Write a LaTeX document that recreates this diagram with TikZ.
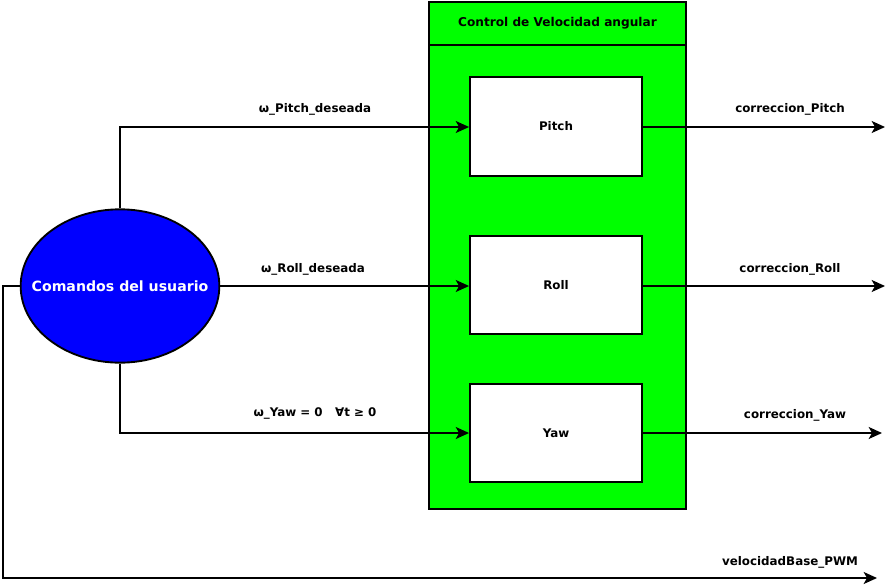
\documentclass[tikz,border=0pt]{standalone}
\usepackage{fontspec}
\setmainfont{DejaVu Sans}
\usetikzlibrary{arrows.meta,shapes.geometric}
\definecolor{vgreen}{HTML}{00FF00}
\definecolor{vblue}{HTML}{0000FF}
\tikzset{
  px/.style={x=0.75pt,y=-0.75pt},
  wire/.style={line width=1.4pt,-{Stealth[length=10pt,width=9pt,inset=2.5pt]}},
  blockbox/.style={draw,line width=1.4pt,fill=white,minimum width=129pt,minimum height=74pt,inner sep=0pt,font=\bfseries\fontsize{8.9}{10}\selectfont},
  lbl/.style={font=\bfseries\fontsize{8.9}{10}\selectfont,inner sep=0pt}
}
\begin{document}
\begin{tikzpicture}[px]
\useasboundingbox (0,0) rectangle (887,585);
% container
\node[draw,line width=1.4pt,fill=vgreen,minimum width=192.75pt,minimum height=380.25pt,inner sep=0pt,anchor=north west] (ctrl) at (428,1) {};
\node[draw,line width=1.4pt,fill=vgreen,minimum width=192.75pt,minimum height=32.25pt,inner sep=0pt,anchor=north west,font=\bfseries\fontsize{9.1}{10}\selectfont] (title) at (428,1) {Control de Velocidad angular};
% blocks
\node[blockbox] (pitch) at (556,126.5) {Pitch};
\node[blockbox] (roll) at (556,285) {Roll};
\node[blockbox] (yaw) at (556,433) {Yaw};
% ellipse
\node[ellipse,draw,line width=1.4pt,fill=vblue,minimum width=149pt,minimum height=115pt,inner sep=0pt,
  label={[text=white,font=\bfseries\fontsize{10.6}{12}\selectfont]center:Comandos del usuario}] (cmd) at (120,286) {};
% coordinates
\coordinate (pc) at (120,127);
\coordinate (yc) at (120,433);
\coordinate (lc) at (3,286);
\coordinate (bc) at (3,578);
\coordinate (bend) at (877,578);
\coordinate (po) at (885,127);
\coordinate (ro) at (885,286);
\coordinate (yo) at (882,433);
% inputs
\draw[wire] (cmd.north) -- (pc) -- (pitch.west |- pc);
\draw[wire] (cmd.east) -- (roll.west |- cmd.east);
\draw[wire] (cmd.south) -- (yc) -- (yaw.west |- yc);
\draw[wire] (cmd.west) -- (lc) -- (bc) -- (bend);
% outputs
\draw[wire] (pitch.east |- po) -- (po);
\draw[wire] (roll.east |- ro) -- (ro);
\draw[wire] (yaw.east |- yo) -- (yo);
% labels
\node[lbl] (l1) at (315,109) {ω\_Pitch\_deseada};
\node[lbl] (l2) at (313,269) {ω\_Roll\_deseada};
\node[lbl] (l3) at (315,413) {ω\_Yaw = 0\ \ \ ∀t ≥ 0};
\node[lbl] (l4) at (790,109) {correccion\_Pitch};
\node[lbl] (l5) at (790,269) {correccion\_Roll};
\node[lbl] (l6) at (795,415) {correccion\_Yaw};
\node[lbl] (l7) at (790,562) {velocidadBase\_PWM};
\end{tikzpicture}
\end{document}
